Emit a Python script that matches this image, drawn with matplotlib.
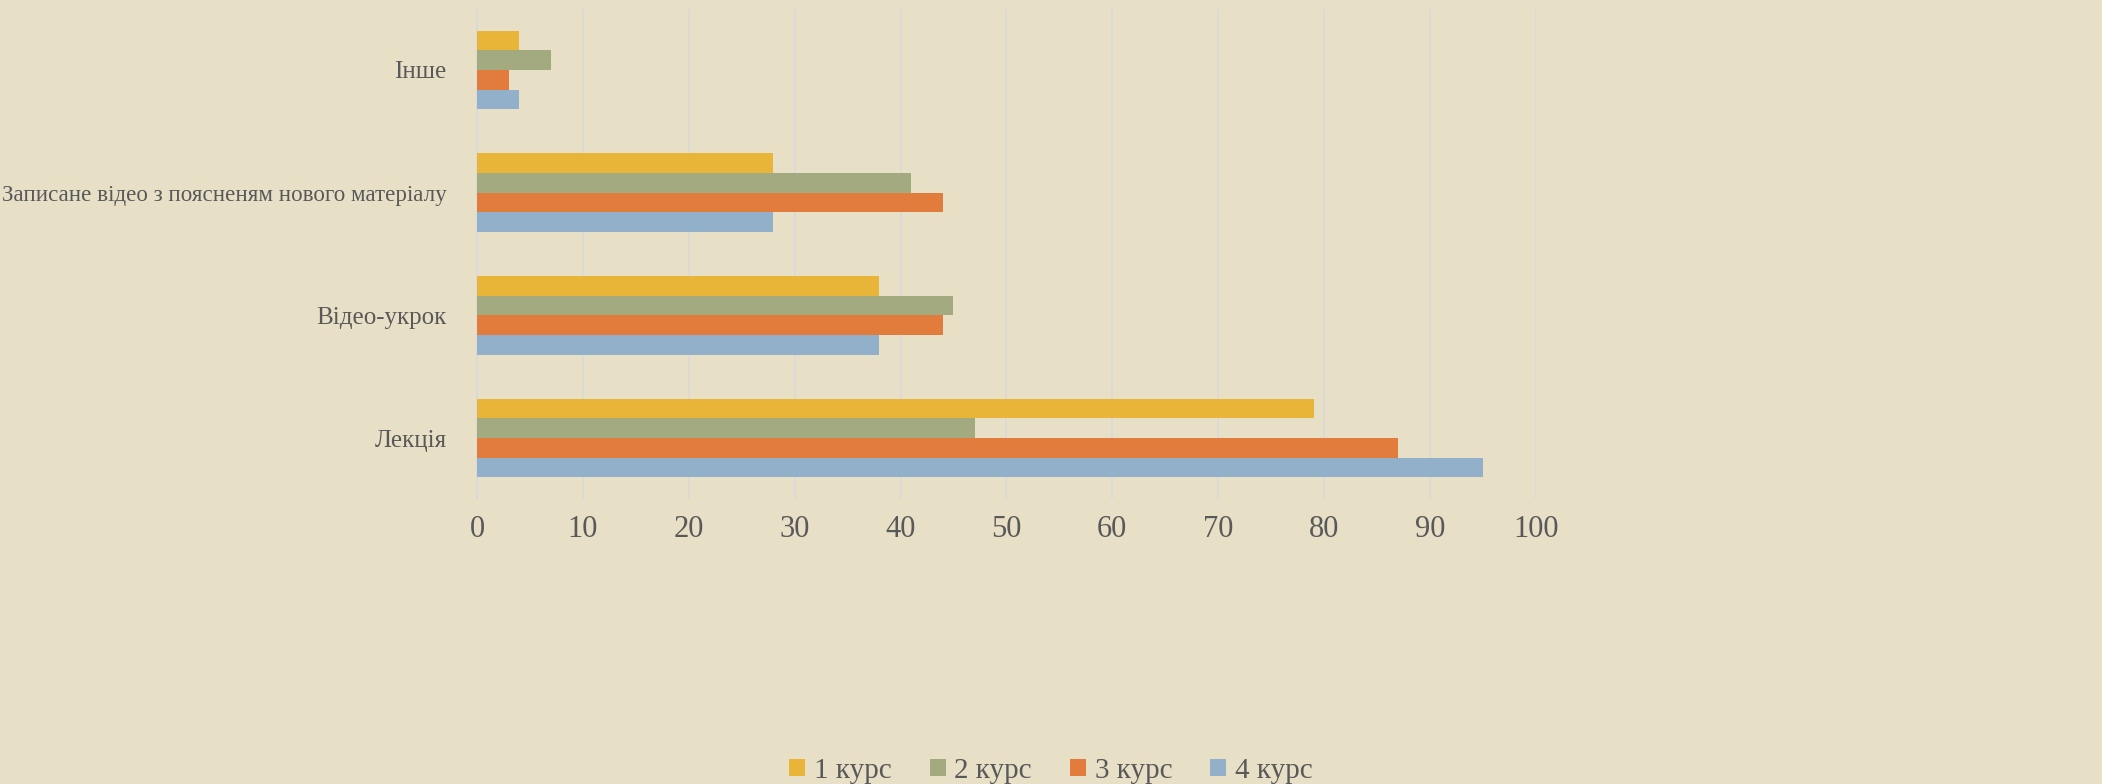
import matplotlib
matplotlib.use("Agg")
import matplotlib.pyplot as plt
import numpy as np

categories = ["Лекція", "Відео-укрок", "Записане відео з поясненям нового матеріалу", "Інше"]
series_names = ["1 курс", "2 курс", "3 курс", "4 курс"]
kurs1 = [79, 38, 28, 4]
kurs2 = [47, 45, 41, 7]
kurs3 = [87, 44, 44, 3]
kurs4 = [95, 38, 28, 4]
x_ticks = [0, 10, 20, 30, 40, 50, 60, 70, 80, 90, 100]

colors = ["#E8B538", "#A4AA80", "#E27C3C", "#92B0C9"]
bg = "#E7DFC6"
txt = "#595959"

plt.rcParams['font.family'] = ['Liberation Serif', 'DejaVu Serif']

fig = plt.figure(figsize=(21.02, 7.84), dpi=100, facecolor=bg)
ax = fig.add_axes([0.2269, 0.363, 0.5038, 0.626])
ax.set_facecolor(bg)

data = [kurs1, kurs2, kurs3, kurs4]
y = np.arange(len(categories))
h = 0.16
for i, (vals, name, c) in enumerate(zip(data, series_names, colors)):
    ax.barh(y + (1.5 - i) * h, vals, height=h, color=c, label=name, zorder=3)

ax.set_xlim(0, 100)
ax.set_ylim(-0.5, 3.5)
ax.set_xticks(x_ticks)
ax.set_yticks(y)
ax.set_yticklabels(categories)
ax.grid(axis='x', color="#D9D9D9", linewidth=1.2, zorder=0)
for s in ["top", "right", "bottom"]:
    ax.spines[s].set_visible(False)
ax.spines["left"].set_color("#D9D9D9")
ax.spines["left"].set_linewidth(1.2)
ax.tick_params(axis='both', length=0, colors=txt)
ax.tick_params(axis='x', pad=11, labelsize=22)
ax.tick_params(axis='y', pad=22, labelsize=18)

fig.legend(loc='center', bbox_to_anchor=(0.5, 0.017), ncol=4, frameon=False,
           fontsize=21, labelcolor=txt, handlelength=0.55, handleheight=0.55,
           handletextpad=0.3, columnspacing=1.3)

# shrink any y label that would not fit into the space left of the axes
fig.canvas.draw()
renderer = fig.canvas.get_renderer()
avail = 443
for lab in ax.get_yticklabels():
    w = lab.get_window_extent(renderer).width
    if w > avail:
        lab.set_fontsize(lab.get_fontsize() * avail / w)

fig.savefig("out.png", dpi=100, facecolor=bg)
